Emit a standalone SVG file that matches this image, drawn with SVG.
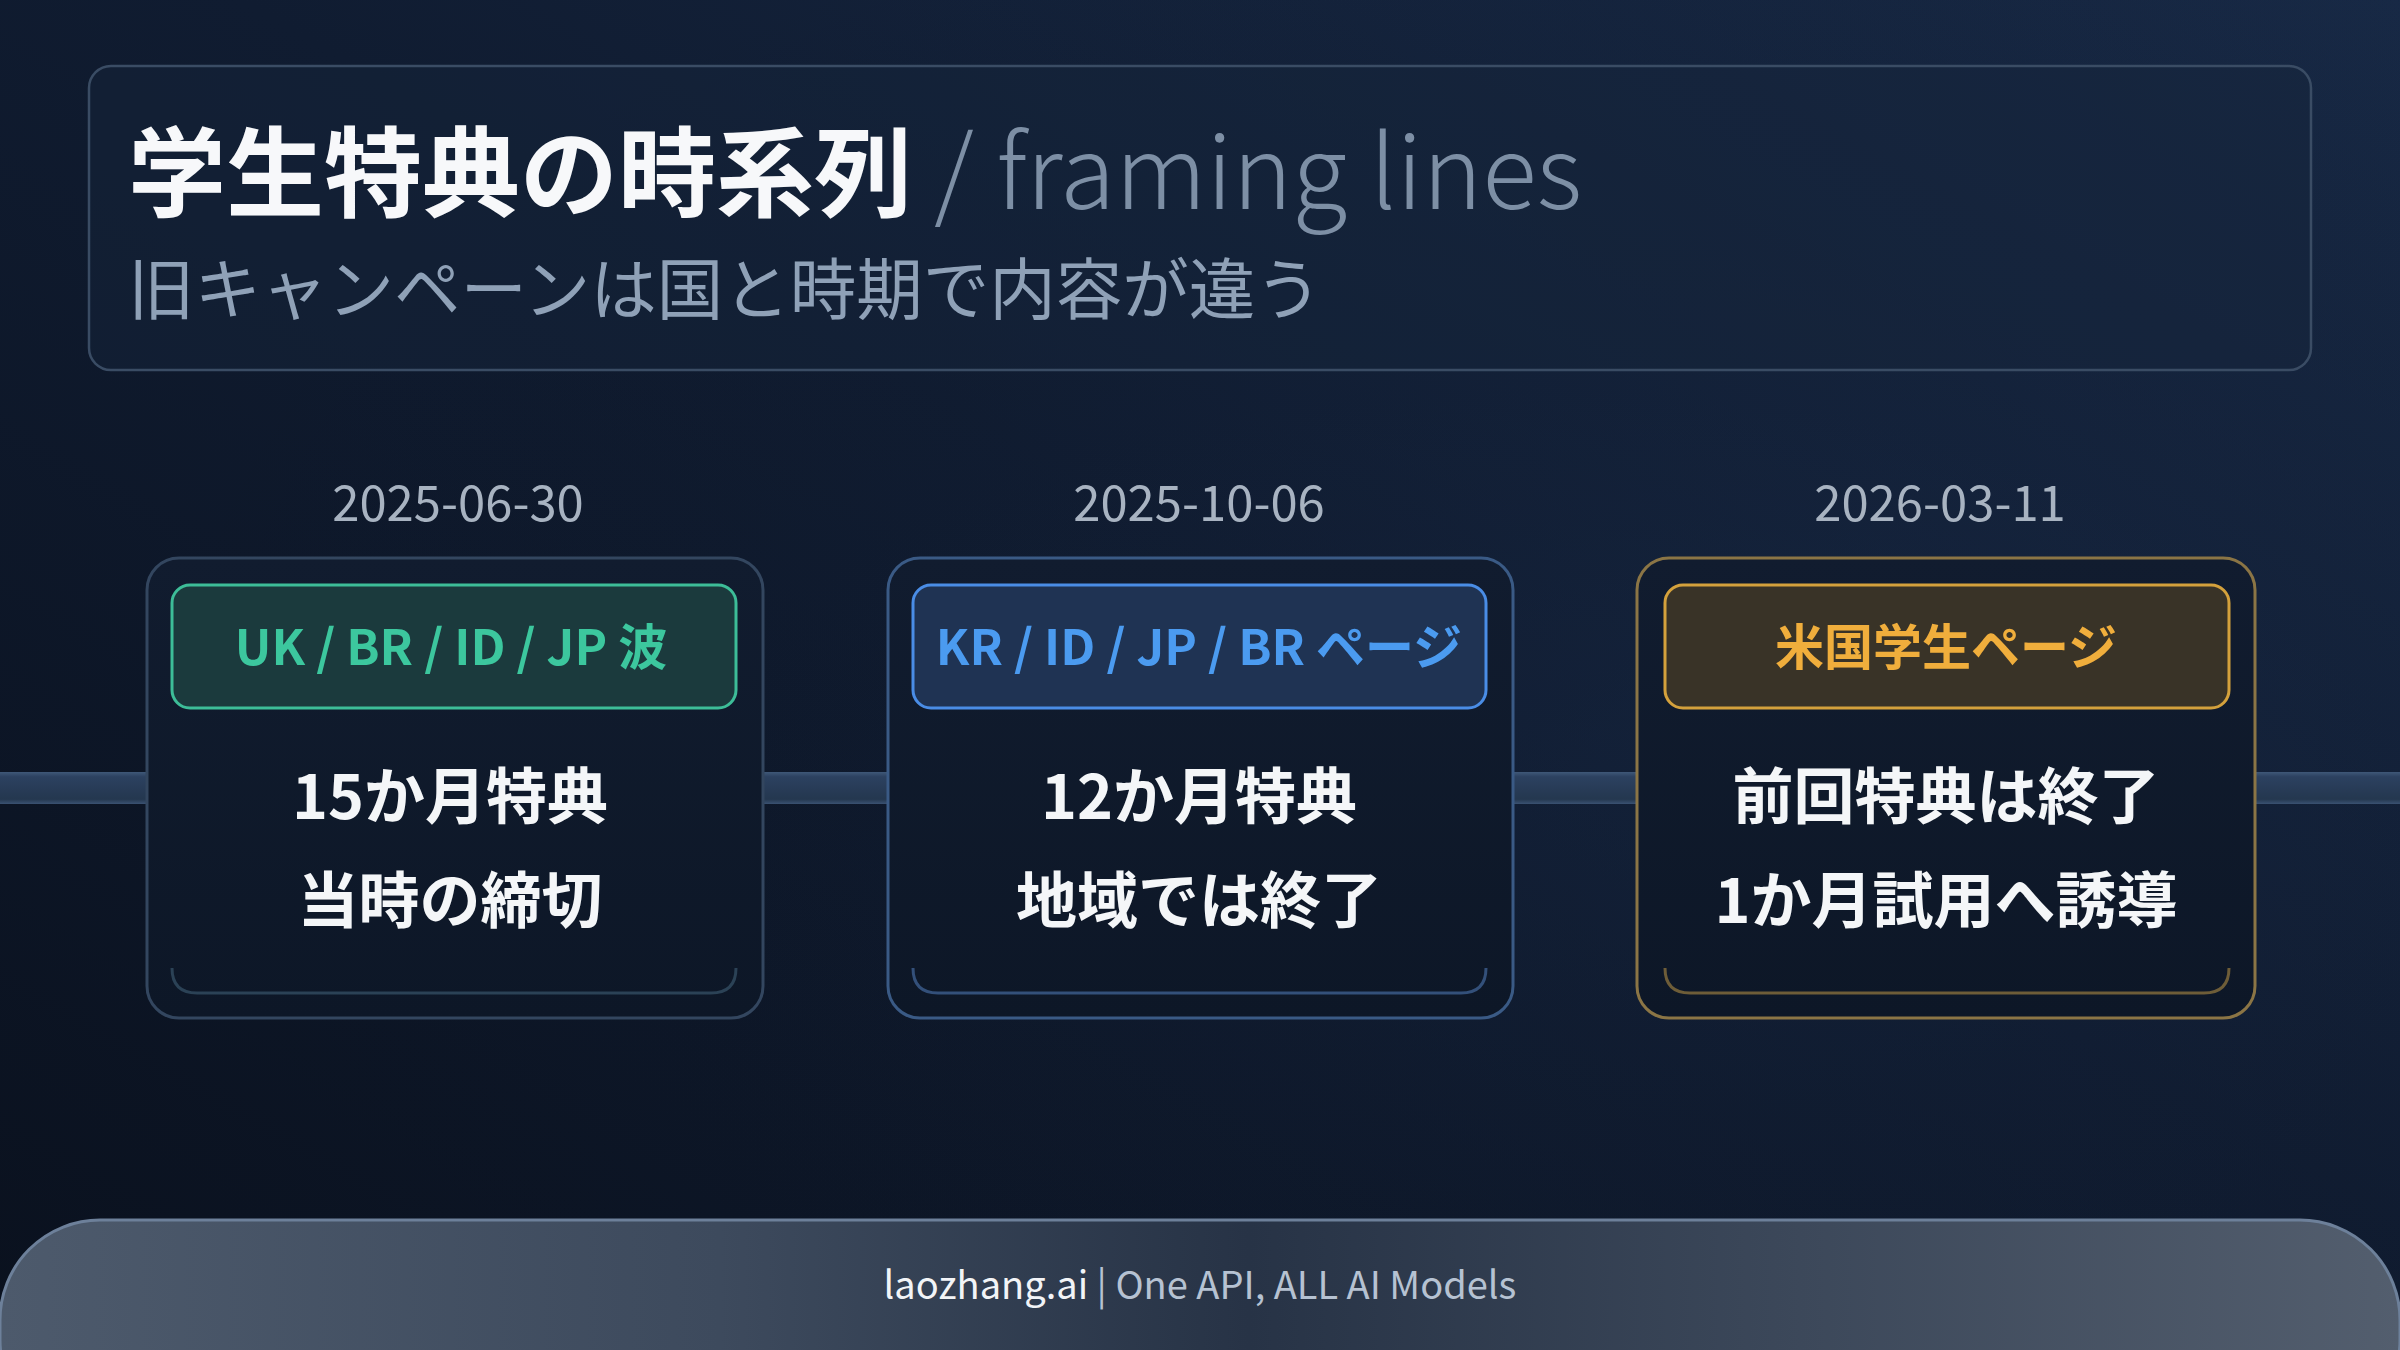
<svg xmlns="http://www.w3.org/2000/svg" width="2400" height="1350" viewBox="0 0 2400 1350">
<defs>
<linearGradient id="bg" x1="0" y1="1" x2="1" y2="0">
<stop offset="0" stop-color="#0a111e"/>
<stop offset="0.55" stop-color="#101c31"/>
<stop offset="1" stop-color="#182a47"/>
</linearGradient>
<radialGradient id="vig" cx="0.75" cy="0.55" r="0.7">
<stop offset="0" stop-color="#1a2c4a" stop-opacity="0.35"/>
<stop offset="1" stop-color="#0a101c" stop-opacity="0"/>
</radialGradient>
<linearGradient id="bar" x1="0" y1="0" x2="0" y2="1">
<stop offset="0" stop-color="#3f5878"/>
<stop offset="0.15" stop-color="#2c4160"/>
<stop offset="0.85" stop-color="#24374f"/>
<stop offset="1" stop-color="#3a5272"/>
</linearGradient>
<linearGradient id="cardfill" x1="0" y1="0" x2="0" y2="1">
<stop offset="0" stop-color="#111c2f"/>
<stop offset="1" stop-color="#0d1727"/>
</linearGradient>
<linearGradient id="foot" x1="0" y1="0" x2="1" y2="0">
<stop offset="0" stop-color="#4d5a6c"/>
<stop offset="0.3" stop-color="#3d4a5d"/>
<stop offset="0.52" stop-color="#273346"/>
<stop offset="0.75" stop-color="#3c485a"/>
<stop offset="1" stop-color="#535e6e"/>
</linearGradient>
<style>
text{font-family:"Noto Sans CJK JP","Noto Sans",sans-serif}
.card{fill:url(#cardfill);stroke-width:3}
.tag{stroke-width:3}
.tagt{font-size:49px;font-weight:700;text-anchor:middle}
.body{font-size:61px;font-weight:700;fill:#f4f6f8;text-anchor:middle}
.date{font-size:49px;font-weight:400;fill:#a8b3c1;text-anchor:middle}
.inner{fill:none;stroke-width:3}
</style>
</defs>
<rect width="2400" height="1350" fill="url(#bg)"/>
<rect width="2400" height="1350" fill="url(#vig)"/>

<g id="header">
<rect x="89" y="66" width="2222" height="304" rx="22" fill="#17253b" fill-opacity="0.45" stroke="#3a4c64" stroke-width="2.5"/>
<text x="128" y="209"><tspan font-size="98" font-weight="700" fill="#f7f8fa">学生特典の時系列</tspan><tspan font-size="101" font-weight="300" fill="#7d8fa5" dx="22">/ framing lines</tspan></text>
<text x="128" y="314" font-size="66.5" font-weight="400" fill="#8fa1b7">旧キャンペーンは国と時期で内容が違う</text>
</g>

<g id="connectors">
<rect x="0" y="772" width="2400" height="32" fill="url(#bar)"/>
</g>

<g id="card1">
<text class="date" x="458" y="521">2025-06-30</text>
<rect class="card" x="147" y="558" width="616" height="460" rx="32" stroke="#33465f"/>
<rect class="tag" x="172" y="585" width="564" height="123" rx="18" fill="#1b3a3d" stroke="#3dbd98"/>
<text class="tagt" x="451" y="665" fill="#3cc79e">UK / BR / ID / JP 波</text>
<path class="inner" d="M172 968 Q172 993 197 993 L711 993 Q736 993 736 968" stroke="#2b4256"/>
<text class="body" x="450" y="819">15か月特典</text>
<text class="body" x="450" y="923">当時の締切</text>
</g>

<g id="card2">
<text class="date" x="1199" y="521">2025-10-06</text>
<rect class="card" x="888" y="558" width="625" height="460" rx="32" stroke="#3a5a85"/>
<rect class="tag" x="913" y="585" width="573" height="123" rx="18" fill="#1f3353" stroke="#4a8de6"/>
<text class="tagt" x="1199" y="665" fill="#4b9bf0">KR / ID / JP / BR ページ</text>
<path class="inner" d="M913 968 Q913 993 938 993 L1461 993 Q1486 993 1486 968" stroke="#33507a"/>
<text class="body" x="1199" y="819">12か月特典</text>
<text class="body" x="1199" y="923">地域では終了</text>
</g>

<g id="card3">
<text class="date" x="1940" y="521">2026-03-11</text>
<rect class="card" x="1637" y="558" width="618" height="460" rx="32" stroke="#8b7545"/>
<rect class="tag" x="1665" y="585" width="564" height="123" rx="18" fill="#393327" stroke="#d4a13c"/>
<text class="tagt" x="1946" y="665" fill="#f0ae3c">米国学生ページ</text>
<path class="inner" d="M1665 968 Q1665 993 1690 993 L2204 993 Q2229 993 2229 968" stroke="#6e5d38"/>
<text class="body" x="1946" y="819">前回特典は終了</text>
<text class="body" x="1946" y="923">1か月試用へ誘導</text>
</g>

<g id="footer">
<rect x="0" y="1220" width="2400" height="220" rx="100" fill="url(#foot)" stroke="#6d809a" stroke-width="3"/>
<text x="1200" y="1299" font-size="38" text-anchor="middle"><tspan fill="#f2f4f7">laozhang.ai</tspan><tspan fill="#b6c2d2"> | One API, ALL AI Models</tspan></text>
</g>
</svg>
